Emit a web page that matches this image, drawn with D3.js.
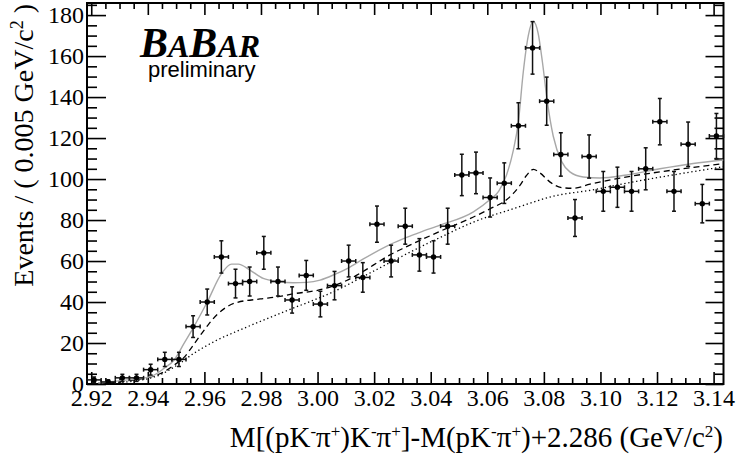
<!DOCTYPE html>
<html>
<head>
<meta charset="utf-8">
<script src="https://cdn.jsdelivr.net/npm/d3@7"></script>
<style>
  body { margin: 0; background: #fff; }
  svg text { font-family: "Liberation Serif", "Times New Roman", serif; }
</style>
</head>
<body>
<svg width="736" height="455"></svg>
<script>
// histogram bins (bin centres, 0.005 GeV wide) and entries
const binCenter = [2.921,2.926,2.931,2.936,2.941,2.946,2.951,2.956,2.961,2.966,
  2.971,2.976,2.981,2.986,2.991,2.996,3.001,3.006,3.011,3.016,
  3.021,3.026,3.031,3.036,3.041,3.046,3.051,3.056,3.061,3.066,
  3.071,3.076,3.081,3.086,3.091,3.096,3.101,3.106,3.111,3.116,
  3.121,3.126,3.131,3.136,3.141];
const events = [2,1,3,3,7,12,12,28,40,62,
  49,50,64,50,41,53,39,48,60,52,
  78,60,77,63,62,77,102,103,91,98,
  126,164,138,112,81,111,94,96,94,105,
  128,94,117,88,121];
const binWidth = 0.005;

// fit curves
const totalMass = [2.9225,2.9259,2.9358,2.9410,2.9457,2.9493,2.9528,2.9563,2.9610,2.9661,
  2.9696,2.9720,2.9761,2.9808,2.9861,2.9914,2.9962,3.0009,3.0061,3.0110,
  3.0162,3.0256,3.0315,3.0362,3.0433,3.0551,3.0610,3.0640,3.0668,3.0692,
  3.0710,3.0727,3.0745,3.0762,3.0780,3.0795,3.0812,3.0833,3.0863,3.0892,
  3.0939,3.0998,3.1093,3.1210,3.1328,3.1434];
const totalFit = [0.5,1.0,2.5,3.6,7.6,11.7,19.8,28,40,54,
  58.5,58.5,55.6,51.5,50,49.4,49.6,50.7,53.5,56.7,
  61,68,71.5,74,77.5,84,90,94,102,114,
  128,152,170,177,171,157,138,121,108.5,103.5,
  101,100.5,102,105,107.6,109.3];

const dashMass = [2.9225,2.9325,2.9443,2.9496,2.9528,2.9561,2.9587,2.9614,2.9646,2.9708,
  2.9797,2.9856,2.9914,3.0009,3.0103,3.0150,3.0197,3.0256,3.0315,3.0433,
  3.0551,3.0610,3.0669,3.0692,3.0716,3.0737,3.0763,3.0786,3.0822,3.0863,
  3.0903,3.0963,3.1069,3.1210,3.1434];
const dashFit = [0.3,1.5,5,9.5,13,19,24,29,34,39.5,
  41.5,42.5,44,46,50.5,54,58,63,67,74.5,
  81.5,85.5,90,93,97,101.5,104.7,103,98.5,95.8,
  95.5,97.5,100.5,103.5,107.5];

const dotMass = [2.9225,2.9325,2.9443,2.9496,2.9563,2.9646,2.9728,2.9797,2.9914,3.0056,
  3.0197,3.0315,3.0433,3.0551,3.0692,3.0845,3.0963,3.1093,3.1434];
const dotFit = [0.3,1,4.5,8.5,15,21.5,26.5,30.5,37,45,
  55,63.5,71.5,79,85.5,92,94.5,98,106];

const xTicks = [2.92,2.94,2.96,2.98,3.00,3.02,3.04,3.06,3.08,3.10,3.12,3.14];
const yTicks = [0,20,40,60,80,100,120,140,160,180];

var svg = d3.select("svg");
var pLeft = 87, pRight = 723.5, pTop = 3, pBottom = 384;

var x = d3.scaleLinear().domain([2.9185, 3.1435]).range([pLeft, pRight]);
var y = d3.scaleLinear().domain([0, 185.9]).range([pBottom, pTop]);

var xMinor = d3.range(2.92, 3.1435, 0.005).filter(v => !xTicks.some(t => Math.abs(t - v) < 1e-6));
var yMinor = d3.range(0, 186, 5).filter(v => v % 20 != 0);

// axes (ticks point into the frame)
svg.append("g").attr("transform", `translate(0,${pBottom})`)
  .call(d3.axisBottom(x).tickValues(xTicks).tickSize(-12).tickPadding(5).tickFormat(d3.format(".2f")));
svg.append("g").attr("transform", `translate(0,${pBottom})`)
  .call(d3.axisBottom(x).tickValues(xMinor).tickSize(-6).tickFormat(""));
svg.append("g").attr("transform", `translate(0,${pTop})`)
  .call(d3.axisTop(x).tickValues(xTicks).tickSize(-12).tickFormat(""));
svg.append("g").attr("transform", `translate(0,${pTop})`)
  .call(d3.axisTop(x).tickValues(xMinor).tickSize(-6).tickFormat(""));

svg.append("g").attr("transform", `translate(${pLeft},0)`)
  .call(d3.axisLeft(y).tickValues(yTicks).tickSize(-19).tickPadding(3));
svg.append("g").attr("transform", `translate(${pLeft},0)`)
  .call(d3.axisLeft(y).tickValues(yMinor).tickSize(-10).tickFormat(""));
svg.append("g").attr("transform", `translate(${pRight},0)`)
  .call(d3.axisRight(y).tickValues(yTicks).tickSize(-18).tickFormat(""));
svg.append("g").attr("transform", `translate(${pRight},0)`)
  .call(d3.axisRight(y).tickValues(yMinor).tickSize(-9).tickFormat(""));

svg.selectAll(".domain").remove();
svg.selectAll(".tick line").attr("stroke", "#000").attr("stroke-width", 1.6);
svg.selectAll(".tick text")
  .style("font-family", "Liberation Serif").style("font-size", "24px").attr("fill", "#000");

// frame
svg.append("rect")
  .attr("x", pLeft).attr("y", pTop)
  .attr("width", pRight - pLeft).attr("height", pBottom - pTop)
  .attr("fill", "none").attr("stroke", "#000").attr("stroke-width", 2);

// fit curves
var line = (ms, vs) => d3.line()
  .x((d, i) => x(ms[i])).y(d => y(d))
  .curve(d3.curveMonotoneX)(vs);

svg.append("path").attr("d", line(dotMass, dotFit))
  .attr("fill", "none").attr("stroke", "#000").attr("stroke-width", 1.3)
  .attr("stroke-dasharray", "1.3,2.7");
svg.append("path").attr("d", line(dashMass, dashFit))
  .attr("fill", "none").attr("stroke", "#000").attr("stroke-width", 1.3)
  .attr("stroke-dasharray", "6,4");
svg.append("path").attr("d", line(totalMass, totalFit))
  .attr("fill", "none").attr("stroke", "#a8a8a8").attr("stroke-width", 1.4);

// data points with error bars
var pts = svg.append("g").selectAll("g")
  .data(events)
  .enter()
  .append("g");

var lo = d => y(Math.max(0, d - Math.sqrt(d)));
var hi = d => y(d + Math.sqrt(d));
var cx = (d, i) => x(binCenter[i]);

pts.append("line")
  .attr("x1", (d, i) => x(binCenter[i] - binWidth / 2))
  .attr("x2", (d, i) => x(binCenter[i] + binWidth / 2))
  .attr("y1", d => y(d)).attr("y2", d => y(d));
pts.append("line")
  .attr("x1", cx).attr("x2", cx)
  .attr("y1", lo).attr("y2", hi);
// caps
pts.append("line")
  .attr("x1", (d, i) => cx(d, i) - 2).attr("x2", (d, i) => cx(d, i) + 2)
  .attr("y1", hi).attr("y2", hi);
pts.append("line")
  .attr("x1", (d, i) => cx(d, i) - 2).attr("x2", (d, i) => cx(d, i) + 2)
  .attr("y1", lo).attr("y2", lo);
pts.append("line")
  .attr("x1", (d, i) => x(binCenter[i] - binWidth / 2)).attr("x2", (d, i) => x(binCenter[i] - binWidth / 2))
  .attr("y1", d => y(d) - 2).attr("y2", d => y(d) + 2);
pts.append("line")
  .attr("x1", (d, i) => x(binCenter[i] + binWidth / 2)).attr("x2", (d, i) => x(binCenter[i] + binWidth / 2))
  .attr("y1", d => y(d) - 2).attr("y2", d => y(d) + 2);
pts.selectAll("line").attr("stroke", "#111").attr("stroke-width", 1.5);

pts.append("circle")
  .attr("cx", cx)
  .attr("cy", d => y(d))
  .attr("r", 2.7)
  .attr("fill", "#000");

// axis titles
var yt = svg.append("text")
  .attr("transform", "translate(33,4) rotate(-90)")
  .attr("text-anchor", "end")
  .style("font-size", "28px");
yt.append("tspan").text("Events / ( 0.005 GeV/c");
yt.append("tspan").attr("dy", -10).style("font-size", "18px").text("2");
yt.append("tspan").attr("dy", 10).text(" )");

var xt = svg.append("text")
  .attr("x", 723).attr("y", 447)
  .attr("text-anchor", "end")
  .style("font-size", "29px");
var parts = [["M[(pK",0],["-",1],["\u03c0",0],["+",1],[")K",0],["-",1],["\u03c0",0],["+",1],
  ["]-M(pK",0],["-",1],["\u03c0",0],["+",1],[")+2.286 (GeV/c",0],["2",1],[")",0]];
var prevSup = 0;
parts.forEach(p => {
  var t = xt.append("tspan").text(p[0]);
  if (p[1]) t.style("font-size", "17px");
  if (p[1] && !prevSup) t.attr("dy", -10);
  else if (!p[1] && prevSup) t.attr("dy", 10);
  prevSup = p[1];
});

// BaBar logo
var logo = svg.append("text")
  .attr("x", 140).attr("y", 57)
  .style("font-weight", "bold").style("font-style", "italic");
logo.append("tspan").style("font-size", "42px").text("B");
logo.append("tspan").style("font-size", "32px").text("A");
logo.append("tspan").style("font-size", "42px").text("B");
logo.append("tspan").style("font-size", "32px").text("AR");

svg.append("text")
  .attr("x", 148).attr("y", 77)
  .style("font-family", "Liberation Sans, Arial, sans-serif")
  .style("font-size", "22px")
  .text("preliminary");
</script>
</body>
</html>
